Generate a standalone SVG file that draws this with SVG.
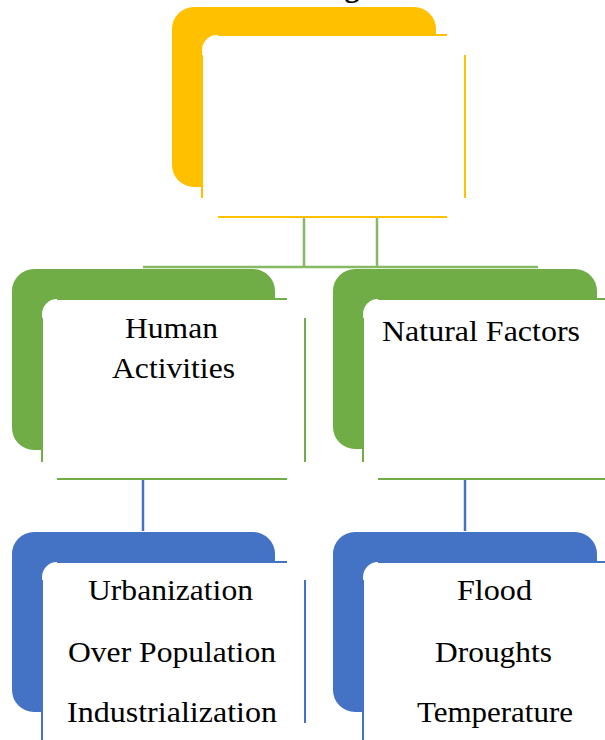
<svg xmlns="http://www.w3.org/2000/svg" width="605" height="740" viewBox="0 0 605 740">
<style>
.t{font-family:"Times New Roman",Tinos,"Liberation Serif","Nimbus Roman","DejaVu Serif",serif;font-size:30px;fill:#000}
.c{text-anchor:middle}
.wb{fill:#fff}
.y{stroke:#FFC000;stroke-width:2;fill:none}
.g{stroke:#70AD47;stroke-width:2;fill:none}
.b{stroke:#4472C4;stroke-width:2;fill:none}
.conG{stroke:#86BA62;stroke-width:2.5;fill:none}
.conB{stroke:#4472C4;stroke-width:2.5;fill:none}
</style>
<rect width="605" height="740" fill="#fff"/>
<text class="t c" x="352" y="-3" font-weight="bold">g</text>
<g id="connectors">
<line class="conG" x1="304" y1="217" x2="304" y2="268"/>
<line class="conG" x1="377" y1="217" x2="377" y2="268"/>
<line class="conG" x1="143" y1="267" x2="538" y2="267"/>
<line class="conB" x1="143" y1="480" x2="143" y2="531"/>
<line class="conB" x1="465" y1="480" x2="465" y2="531"/>
</g>
<g id="node-top">
<rect x="172" y="7" width="264" height="180" rx="22" fill="#FFC000"/>
<rect class="wb" x="202" y="35" width="263" height="182" rx="15"/>
<line class="y" x1="218" y1="35" x2="447" y2="35"/>
<line class="y" x1="218" y1="217" x2="447" y2="217"/>
<line class="y" x1="202" y1="55" x2="202" y2="198"/>
<line class="y" x1="465" y1="55" x2="465" y2="198"/>
</g>
<g id="node-human">
<rect x="12" y="269" width="263" height="181" rx="22" fill="#70AD47"/>
<rect class="wb" x="42" y="299" width="263" height="181" rx="15"/>
<line class="g" x1="57" y1="299" x2="287" y2="299"/>
<line class="g" x1="57" y1="479" x2="287" y2="479"/>
<line class="g" x1="42" y1="318" x2="42" y2="462"/>
<line class="g" x1="305" y1="318" x2="305" y2="462"/>
<text class="t" x="125" y="338" textLength="93" lengthAdjust="spacingAndGlyphs">Human</text>
<text class="t" x="112" y="378" textLength="123" lengthAdjust="spacingAndGlyphs">Activities</text>
</g>
<g id="node-natural">
<rect x="333" y="269" width="264" height="180" rx="22" fill="#70AD47"/>
<rect class="wb" x="363" y="299" width="263" height="181" rx="15"/>
<line class="g" x1="378" y1="299" x2="610" y2="299"/>
<line class="g" x1="378" y1="479" x2="610" y2="479"/>
<line class="g" x1="363" y1="318" x2="363" y2="462"/>
<text class="t" x="382" y="341" textLength="198" lengthAdjust="spacingAndGlyphs">Natural Factors</text>
</g>
<g id="node-human-list">
<rect x="12" y="532" width="263" height="180" rx="22" fill="#4472C4"/>
<rect class="wb" x="42" y="562" width="263" height="200" rx="15"/>
<line class="b" x1="57" y1="562" x2="287" y2="562"/>
<line class="b" x1="42" y1="580" x2="42" y2="745"/>
<line class="b" x1="305" y1="580" x2="305" y2="723"/>
<text class="t" x="88" y="600" textLength="165" lengthAdjust="spacingAndGlyphs">Urbanization</text>
<text class="t" x="68" y="662" textLength="208" lengthAdjust="spacingAndGlyphs">Over Population</text>
<text class="t" x="67" y="722" textLength="210" lengthAdjust="spacingAndGlyphs">Industrialization</text>
</g>
<g id="node-natural-list">
<rect x="333" y="532" width="264" height="180" rx="22" fill="#4472C4"/>
<rect class="wb" x="363" y="562" width="263" height="200" rx="15"/>
<line class="b" x1="378" y1="562" x2="610" y2="562"/>
<line class="b" x1="363" y1="580" x2="363" y2="745"/>
<text class="t" x="457" y="600" textLength="75" lengthAdjust="spacingAndGlyphs">Flood</text>
<text class="t" x="435" y="662" textLength="117" lengthAdjust="spacingAndGlyphs">Droughts</text>
<text class="t" x="417" y="722" textLength="156" lengthAdjust="spacingAndGlyphs">Temperature</text>
</g>
</svg>
